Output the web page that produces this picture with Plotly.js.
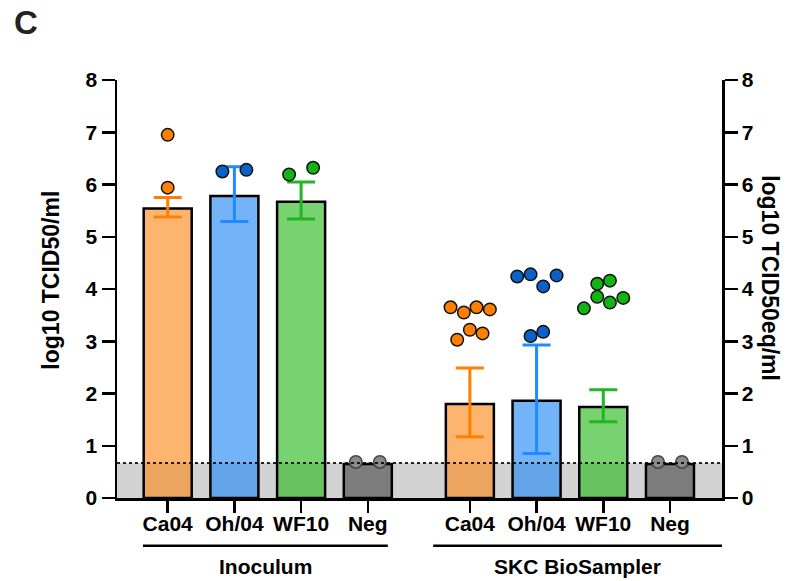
<!DOCTYPE html>
<html>
<head>
<meta charset="utf-8">
<script src="https://cdn.plot.ly/plotly-3.0.1.min.js"></script>
<style>html,body{margin:0;padding:0;background:#fff;}#chart{width:787px;height:581px;}</style>
</head>
<body>
<div id="chart"></div>
<script>
// ---- data ----
const categories = ['Ca04','Oh/04','WF10','Neg','Ca04','Oh/04','WF10','Neg'];
const positions  = [0, 1, 2, 3, 4.53, 5.53, 6.53, 7.53];
const groups     = ['Inoculum', 'SKC BioSampler'];
const strainOf   = ['Ca04','Oh/04','WF10','Neg','Ca04','Oh/04','WF10','Neg'];
const means      = [5.54, 5.78, 5.67, 0.65, 1.80, 1.86, 1.74, 0.65];
const errPlus    = [0.21, 0.56, 0.38, 0, 0.69, 1.07, 0.33, 0];
const errMinus   = [0.16, 0.49, 0.33, 0, 0.63, 1.01, 0.28, 0];
const pointsY = [
  [6.95, 5.94],
  [6.25, 6.28],
  [6.19, 6.32],
  [0.69, 0.69],
  [3.65, 3.55, 3.65, 3.61, 3.03, 3.22, 3.15],
  [4.24, 4.28, 4.05, 4.26, 3.10, 3.18],
  [3.63, 4.10, 4.16, 3.85, 3.74, 3.83],
  [0.69, 0.69]
];
const pointsJitter = [
  [0, 0],
  [-0.18, 0.18],
  [-0.18, 0.18],
  [-0.18, 0.18],
  [-0.29, -0.09, 0.10, 0.30, -0.19, 0, 0.19],
  [-0.29, -0.09, 0.10, 0.30, -0.09, 0.10],
  [-0.29, -0.09, 0.10, -0.09, 0.10, 0.30],
  [-0.18, 0.18]
];
const detectionLimit = 0.67;

// ---- styles ----
const strains = ['Ca04','Oh/04','WF10','Neg'];
const barFill = {'Ca04':'rgba(252,138,28,0.64)','Oh/04':'rgba(36,136,244,0.64)','WF10':'rgba(42,185,32,0.64)','Neg':'#7c7c7c'};
const errCol  = {'Ca04':'#ff8000','Oh/04':'#1e8cff','WF10':'#22b422','Neg':'#7c7c7c'};
const dotCol  = {'Ca04':'#ff8000','Oh/04':'#0a62c8','WF10':'#12b412','Neg':'#8a8a8a'};
const FONT = 'Arial, "Liberation Sans", sans-serif';

const traces = [];
strains.forEach(s => {
  const idx = strainOf.map((v,i)=>v===s?i:-1).filter(i=>i>=0);
  traces.push({
    type:'bar', x: idx.map(i=>positions[i]), y: idx.map(i=>means[i]),
    width: 0.72,
    marker:{color: barFill[s], line:{color:'#000', width:2.5}},
    error_y: s==='Neg' ? {visible:false} : {type:'data', symmetric:false,
      array: idx.map(i=>errPlus[i]), arrayminus: idx.map(i=>errMinus[i]),
      color: errCol[s], thickness:3, width:14},
    hoverinfo:'skip', showlegend:false
  });
});
strains.forEach(s => {
  const xs=[], ys=[];
  strainOf.forEach((v,i)=>{ if(v===s){ pointsY[i].forEach((y,k)=>{ xs.push(positions[i]+pointsJitter[i][k]); ys.push(y); }); } });
  traces.push({
    type:'scatter', mode:'markers', x: xs, y: ys,
    marker:{size:12.5, color: dotCol[s], line:{color: s==='Neg' ? '#444' : '#111', width:1.5}},
    hoverinfo:'skip', showlegend:false, cliponaxis:false
  });
});

const axisCommon = {
  range:[0,8], dtick:1, ticks:'outside', ticklen:13, tickwidth:2.5, tickcolor:'#000',
  showline:true, linewidth:2.5, linecolor:'#000', showgrid:false, zeroline:false,
  tickfont:{family:FONT, size:21, color:'#000', weight:'bold'}, fixedrange:true
};

const layout = {
  width:787, height:581,
  margin:{l:117, r:65, t:80, b:83},
  paper_bgcolor:'#fff', plot_bgcolor:'rgba(0,0,0,0)',
  barmode:'overlay',
  xaxis:{
    range:[-0.76, 8.31], tickvals: positions, ticktext: categories,
    ticks:'outside', ticklen:12, tickwidth:2.5, tickcolor:'#000', ticklabelstandoff:-7,
    showline:true, linewidth:2.5, linecolor:'#000', showgrid:false, zeroline:false,
    tickfont:{family:FONT, size:21, color:'#000', weight:'bold'}
  },
  yaxis: Object.assign({}, axisCommon, {side:'left'}),
  yaxis2: Object.assign({}, axisCommon, {side:'right', overlaying:'y'}),
  shapes:[
    {type:'rect', layer:'below', xref:'paper', yref:'y', x0:0, x1:1, y0:0, y1:detectionLimit,
     fillcolor:'#d3d3d3', line:{width:0}},
    {type:'line', layer:'above', xref:'paper', yref:'y', x0:0, x1:1, y0:detectionLimit, y1:detectionLimit,
     line:{color:'rgba(0,0,0,0.85)', width:2, dash:'dot'}},
    {type:'line', xref:'x', yref:'paper', x0:-0.37, x1:3.30, y0:-0.114, y1:-0.114, line:{color:'#000', width:2.5}},
    {type:'line', xref:'x', yref:'paper', x0:3.98, x1:8.31, y0:-0.114, y1:-0.114, line:{color:'#000', width:2.5}}
  ],
  annotations:[
    {text:groups[0], xref:'x', yref:'paper', x:1.47, y:-0.163, showarrow:false,
     font:{family:FONT, size:21, color:'#000', weight:'bold'}, xanchor:'center', yanchor:'middle'},
    {text:groups[1], xref:'x', yref:'paper', x:6.14, y:-0.163, showarrow:false,
     font:{family:FONT, size:21, color:'#000', weight:'bold'}, xanchor:'center', yanchor:'middle'},
    {text:'log10 TCID50/ml', xref:'paper', yref:'paper', x:(51-117)/605, y:0.52, textangle:-90, showarrow:false,
     font:{family:FONT, size:23, color:'#000', weight:'bold'}, xanchor:'center', yanchor:'middle'},
    {text:'log10 TCID50eq/ml', xref:'paper', yref:'paper', x:(770-117)/605, y:0.526, textangle:90, showarrow:false,
     font:{family:FONT, size:23, color:'#000', weight:'bold'}, xanchor:'center', yanchor:'middle'},
    {text:'C', xref:'paper', yref:'paper', x:(26-117)/605, y:(498-23)/418, showarrow:false,
     font:{family:FONT, size:33, color:'#222', weight:'bold'}, xanchor:'center', yanchor:'middle'}
  ]
};

// dummy trace so yaxis2 is drawn
traces.push({type:'scatter', x:[positions[0]], y:[0], yaxis:'y2', mode:'markers', marker:{opacity:0}, hoverinfo:'skip', showlegend:false});

Plotly.newPlot('chart', traces, layout, {staticPlot:true, displayModeBar:false});
</script>
</body>
</html>
